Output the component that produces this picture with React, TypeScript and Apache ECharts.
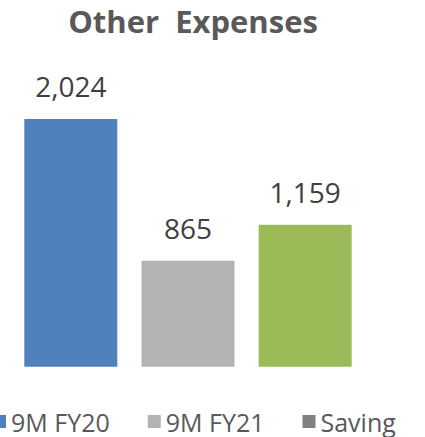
import React, { useEffect, useRef } from "react";
import * as echarts from "echarts";

const categories = ["Other Expenses"];
const seriesNames = ["9M FY20", "9M FY21", "Saving"];
const seriesValues = [2024, 865, 1159];
const barColors = ["#4f81bd", "#b3b3b3", "#9bbb59"];
const legendColors = ["#4f81bd", "#b3b3b3", "#808080"];
const titleText = "Other  Expenses";

export default function App() {
  const ref = useRef<HTMLDivElement>(null);
  useEffect(() => {
    if (!ref.current) return;
    const chart = echarts.init(ref.current, null, { renderer: "svg" });
    chart.setOption({
      animation: false,
      title: {
        text: titleText,
        left: 188,
        textAlign: "center",
        top: 0,
        textStyle: {
          fontFamily: "Open Sans",
          fontWeight: "bold",
          fontSize: 31,
          color: "#595959",
        },
      },
      legend: {
        left: -12,
        top: 404,
        itemWidth: 13,
        itemHeight: 13,
        itemGap: 38,
        icon: "rect",
        textStyle: { fontFamily: "Open Sans", fontSize: 25, color: "#595959" },
        data: seriesNames.map((n, i) => ({ name: n, itemStyle: { color: legendColors[i] } })),
      },
      grid: { left: 24, right: 73, top: 119, bottom: 70.3 },
      xAxis: {
        type: "category",
        data: categories,
        show: false,
      },
      yAxis: {
        type: "value",
        min: 0,
        max: 2024,
        show: false,
        splitLine: { show: false },
      },
      series: seriesNames.map((n, i) => ({
        name: n,
        type: "bar",
        data: [seriesValues[i]],
        barWidth: 93,
        barGap: "26%",
        barCategoryGap: "0%",
        itemStyle: { color: barColors[i] },
        label: {
          show: true,
          position: "top",
          distance: 19,
          fontFamily: "Open Sans",
          fontSize: 28,
          color: "#404040",
          formatter: (p: any) => Number(p.value).toLocaleString("en-US"),
        },
      })),
    });
    return () => chart.dispose();
  }, []);
  return <div ref={ref} style={{ width: 425, height: 437, position: "absolute", left: 0, top: 0 }} />;
}
